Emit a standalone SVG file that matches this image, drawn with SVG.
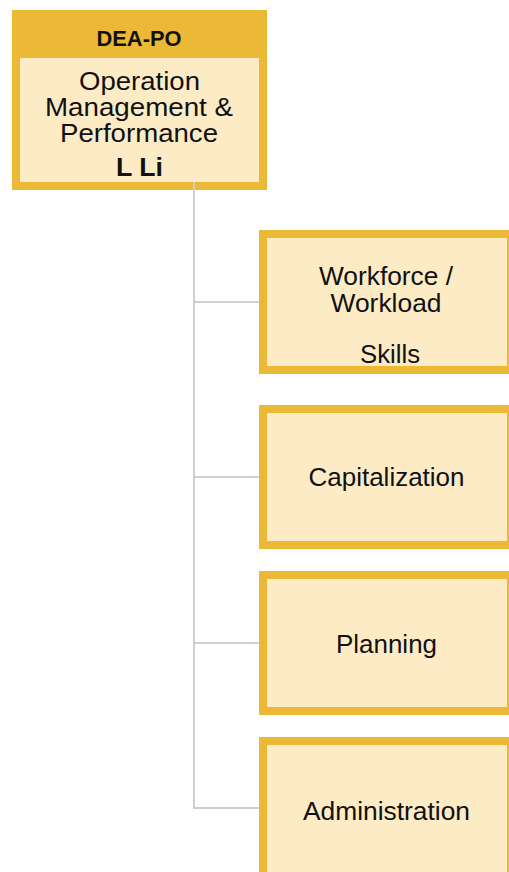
<svg xmlns="http://www.w3.org/2000/svg" width="509" height="872" viewBox="0 0 509 872">
<style>
.bg{fill:#ffffff}
.outer{fill:#EBB935}
.inner{fill:#FDEBC6}
.box{fill:#FDEBC6;stroke:#EBB935;stroke-width:8}
.conn{stroke:#D2CECA;stroke-width:2;fill:none}
.t{font-family:"Liberation Sans",Arial,sans-serif;font-size:25px;fill:#111111;text-anchor:middle}
.b{font-weight:bold}
</style>
<rect class="bg" x="0" y="0" width="509" height="872"/>
<g id="root">
<rect class="outer" x="12" y="10" width="255" height="180"/>
<rect class="inner" x="20" y="58" width="239" height="124"/>
<text class="t b" x="139" y="46" font-size="22" style="font-size:22px" textLength="85" lengthAdjust="spacingAndGlyphs">DEA-PO</text>
<text class="t" x="139.5" y="90" textLength="121" lengthAdjust="spacingAndGlyphs">Operation</text>
<text class="t" x="139" y="115.5" textLength="188" lengthAdjust="spacingAndGlyphs">Management &amp;</text>
<text class="t" x="139" y="141.5" textLength="158" lengthAdjust="spacingAndGlyphs">Performance</text>
<text class="t b" x="139.5" y="175.5" style="font-size:26px" textLength="47" lengthAdjust="spacingAndGlyphs">L Li</text>
</g>
<g id="connectors">
<path class="conn" d="M194 182 V809 M194 302 H259 M194 477 H259 M194 643 H259 M194 808 H259"/>
</g>
<g id="workforce">
<rect class="box" x="263" y="234" width="248" height="136"/>
<text class="t" x="386" y="285" textLength="134" lengthAdjust="spacingAndGlyphs">Workforce /</text>
<text class="t" x="386" y="311.5" textLength="111" lengthAdjust="spacingAndGlyphs">Workload</text>
<text class="t" x="390" y="362.5" textLength="60" lengthAdjust="spacingAndGlyphs">Skills</text>
</g>
<g id="capitalization">
<rect class="box" x="263" y="409" width="248" height="136"/>
<text class="t" x="386.5" y="486" textLength="156" lengthAdjust="spacingAndGlyphs">Capitalization</text>
</g>
<g id="planning">
<rect class="box" x="263" y="575" width="248" height="136"/>
<text class="t" x="386.5" y="653" textLength="101" lengthAdjust="spacingAndGlyphs">Planning</text>
</g>
<g id="administration">
<rect class="box" x="263" y="741" width="248" height="136"/>
<text class="t" x="386.5" y="820" textLength="167" lengthAdjust="spacingAndGlyphs">Administration</text>
</g>
</svg>
